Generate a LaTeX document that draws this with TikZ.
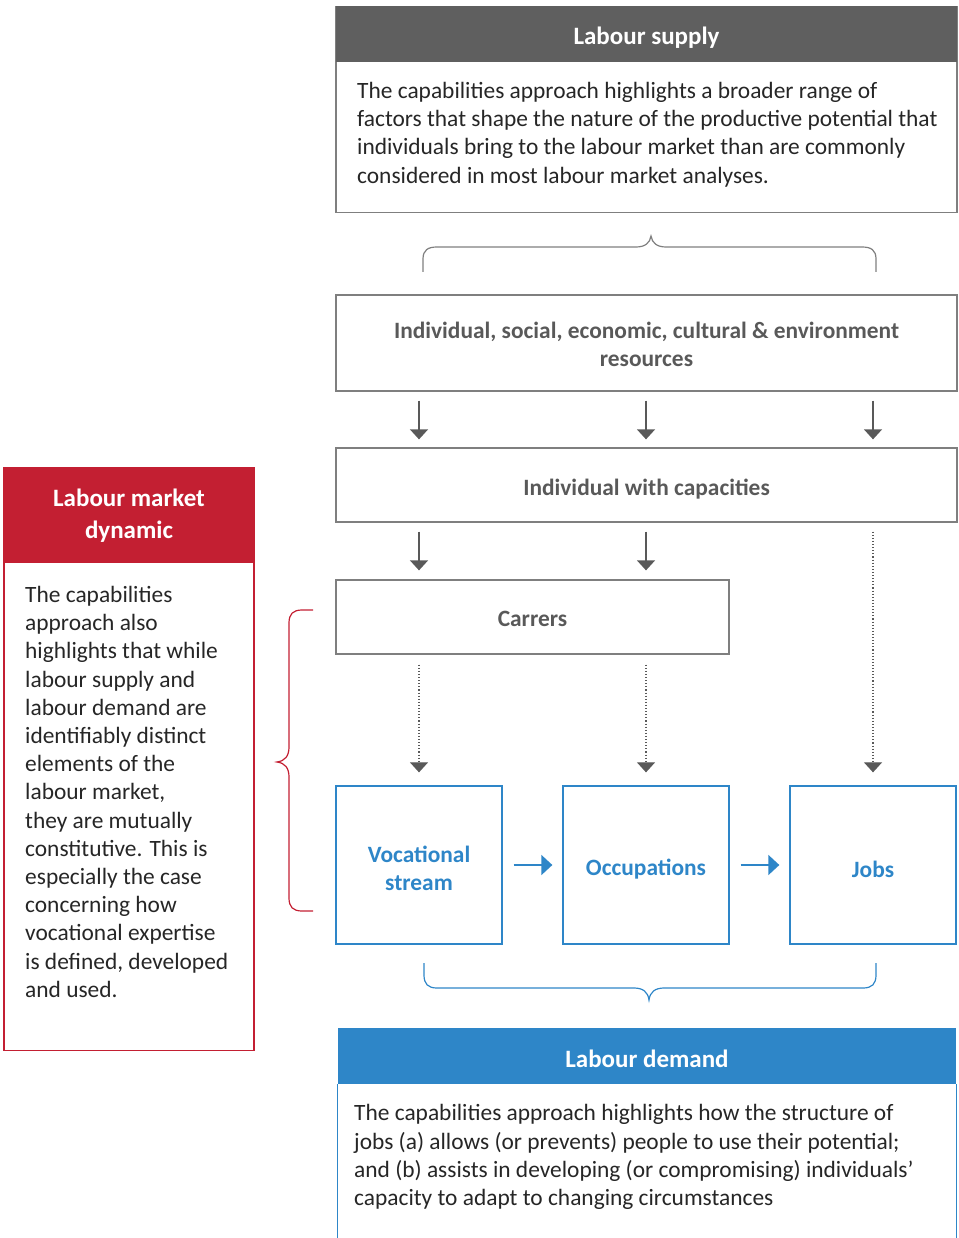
\documentclass[tikz,border=0pt]{standalone}
\usepackage{fontspec}
\setmainfont{Carlito}
\usetikzlibrary{arrows.meta}
\definecolor{supgray}{HTML}{5F5F5F}
\definecolor{linegray}{HTML}{7F7F7F}
\definecolor{labelgray}{HTML}{595959}
\definecolor{bodytxt}{HTML}{262626}
\definecolor{dynred}{HTML}{C31F32}
\definecolor{demblue}{HTML}{2E86C8}
\tikzset{
  hdr/.style={inner sep=0pt, text=white, font=\fontsize{25}{32}\selectfont\bfseries, align=center},
  panel/.style={draw=linegray, line width=1.3pt, inner sep=0pt},
  bodytext/.style={inner sep=0pt, anchor=north west, align=left, text=bodytxt,
    font=\fontsize{23.4}{28.2}\selectfont},
  flowbox/.style={draw=linegray, line width=1.3pt, inner sep=0pt, align=center,
    text=labelgray, font=\fontsize{23.4}{28}\selectfont\bfseries},
  bluebox/.style={draw=demblue, line width=1.3pt, inner sep=0pt, align=center,
    text=demblue, font=\fontsize{23.4}{28}\selectfont\bfseries,
    minimum width=166pt, minimum height=158pt},
  solidarr/.style={draw=labelgray, line width=1.3pt, -{Triangle[width=18pt,length=10pt]}},
  dotarr/.style={draw=labelgray, line width=1.1pt, dotted, -{Triangle[width=18pt,length=10pt]}},
  bluearr/.style={draw=demblue, line width=1.5pt, -{Triangle[width=20pt,length=11pt]}},
}
\begin{document}
\begin{tikzpicture}[x=1pt, y=-1pt]
\useasboundingbox (0,0) rectangle (958,1238);

% ---- Labour supply panel
\node[panel, minimum width=621pt, minimum height=206pt, anchor=north] (supbody) at (646.5,6) {};
\node[hdr, fill=supgray, minimum width=621pt, minimum height=56pt, anchor=north] (suphead) at (supbody.north) {};
\node[hdr] (suptitle) at (646.5,37.5) {Labour supply};
\node[bodytext] (suptext) at (357,82) {The capabilities approach highlights a broader range of\\
factors that shape the nature of the productive potential that\\
individuals bring to the labour market than are commonly\\
considered in most labour market analyses.};

% ---- upper brace
\draw[linegray, line width=1.2pt] (423,272) -- (423,259)
  .. controls (423,250) and (428,247) .. (437,247) -- (636,247)
  .. controls (645,247) and (650,243) .. (651,236)
  .. controls (652,243) and (657,247) .. (666,247) -- (862,247)
  .. controls (871,247) and (876,250) .. (876,259) -- (876,272);

% ---- flow boxes
\node[flowbox, minimum width=621pt, minimum height=96pt] (resources) at (646.5,343) {};
\node[flowbox, draw=none] (restext) at (646.5,344)
  {Individual, social, economic, cultural \& environment\\resources};
\node[flowbox, minimum width=621pt, minimum height=74pt] (capac) at (646.5,485) {};
\node[flowbox, draw=none] (captext) at (646.5,489) {Individual with capacities};
\node[flowbox, minimum width=393pt, minimum height=74pt] (carrers) at (532.5,617) {};
\node[flowbox, draw=none] (cartext) at (532.5,619) {Carrers};

\node[bluebox] (voc) at (419,865) {};
\node[bluebox] (occ) at (646,865) {};
\node[bluebox] (jobs) at (873,865) {};
\node[bluebox, draw=none, minimum size=0pt] (voctext) at (419,868) {Vocational\\stream};
\node[bluebox, draw=none, minimum size=0pt] (occtext) at (646,869) {Occupations};
\node[bluebox, draw=none, minimum size=0pt] (jobstext) at (873,869) {Jobs};

% ---- connectors
\foreach \col in {voc,occ,jobs}
  \draw[solidarr, shorten <=9pt, shorten >=8pt] (resources.south -| \col) -- (capac.north -| \col);
\foreach \col in {voc,occ}
  \draw[solidarr, shorten <=9pt, shorten >=9pt] (capac.south -| \col) -- (carrers.north -| \col);
\foreach \col in {voc,occ}
  \draw[dotarr, shorten <=10pt, shorten >=13pt] (carrers.south -| \col) -- (\col.north);
\draw[dotarr, shorten <=9pt, shorten >=13pt] (capac.south -| jobs) -- (jobs.north);
\draw[bluearr, shorten <=11pt, shorten >=10pt] (voc.east) -- (occ.west);
\draw[bluearr, shorten <=11pt, shorten >=10pt] (occ.east) -- (jobs.west);

% ---- lower brace
\draw[demblue, line width=1.2pt] (424,963) -- (424,975)
  .. controls (424,984) and (428,988) .. (437,988) -- (634,988)
  .. controls (643,988) and (648,992) .. (649,1000)
  .. controls (650,992) and (655,988) .. (664,988) -- (863,988)
  .. controls (872,988) and (876,984) .. (876,975) -- (876,963);

% ---- Labour demand panel
\node[hdr, fill=demblue, minimum width=618pt, minimum height=56pt] (demhead) at (647,1056) {};
\node[hdr] (demtitle) at (647,1058.5) {Labour demand};
\draw[demblue, line width=1.3pt] (demhead.south west) -- ++(0,160);
\draw[demblue, line width=1.3pt] (demhead.south east) -- ++(0,160);
\node[bodytext] (demtext) at (354,1104.5) {The capabilities approach highlights how the structure of\\
jobs (a) allows (or prevents) people to use their potential;\\
and (b) assists in developing (or compromising) individuals’\\
capacity to adapt to changing circumstances};

% ---- Labour market dynamic panel
\node[panel, draw=dynred, minimum width=250pt, minimum height=583pt, anchor=north] (dynbody) at (129,467) {};
\node[hdr, fill=dynred, minimum width=250pt, minimum height=96pt, anchor=north] (dynhead) at (dynbody.north) {};
\node[hdr] (dyntitle) at (129,516) {Labour market\\dynamic};
\node[bodytext] (dyntext) at (25,586) {The capabilities\\
approach also\\
highlights that while\\
labour supply and\\
labour demand are\\
identifiably distinct\\
elements of the\\
labour market,\\
they are mutually\\
constitutive. This is\\
especially the case\\
concerning how\\
vocational expertise\\
is defined, developed\\
and used.};

% ---- side brace
\draw[dynred, line width=1.2pt] (313,610) -- (302,610)
  .. controls (293,610) and (289,614) .. (289,623) -- (289,747)
  .. controls (289,756) and (285,761) .. (277,762)
  .. controls (285,763) and (289,768) .. (289,777) -- (289,898)
  .. controls (289,907) and (293,911) .. (302,911) -- (313,911);
\end{tikzpicture}
\end{document}
